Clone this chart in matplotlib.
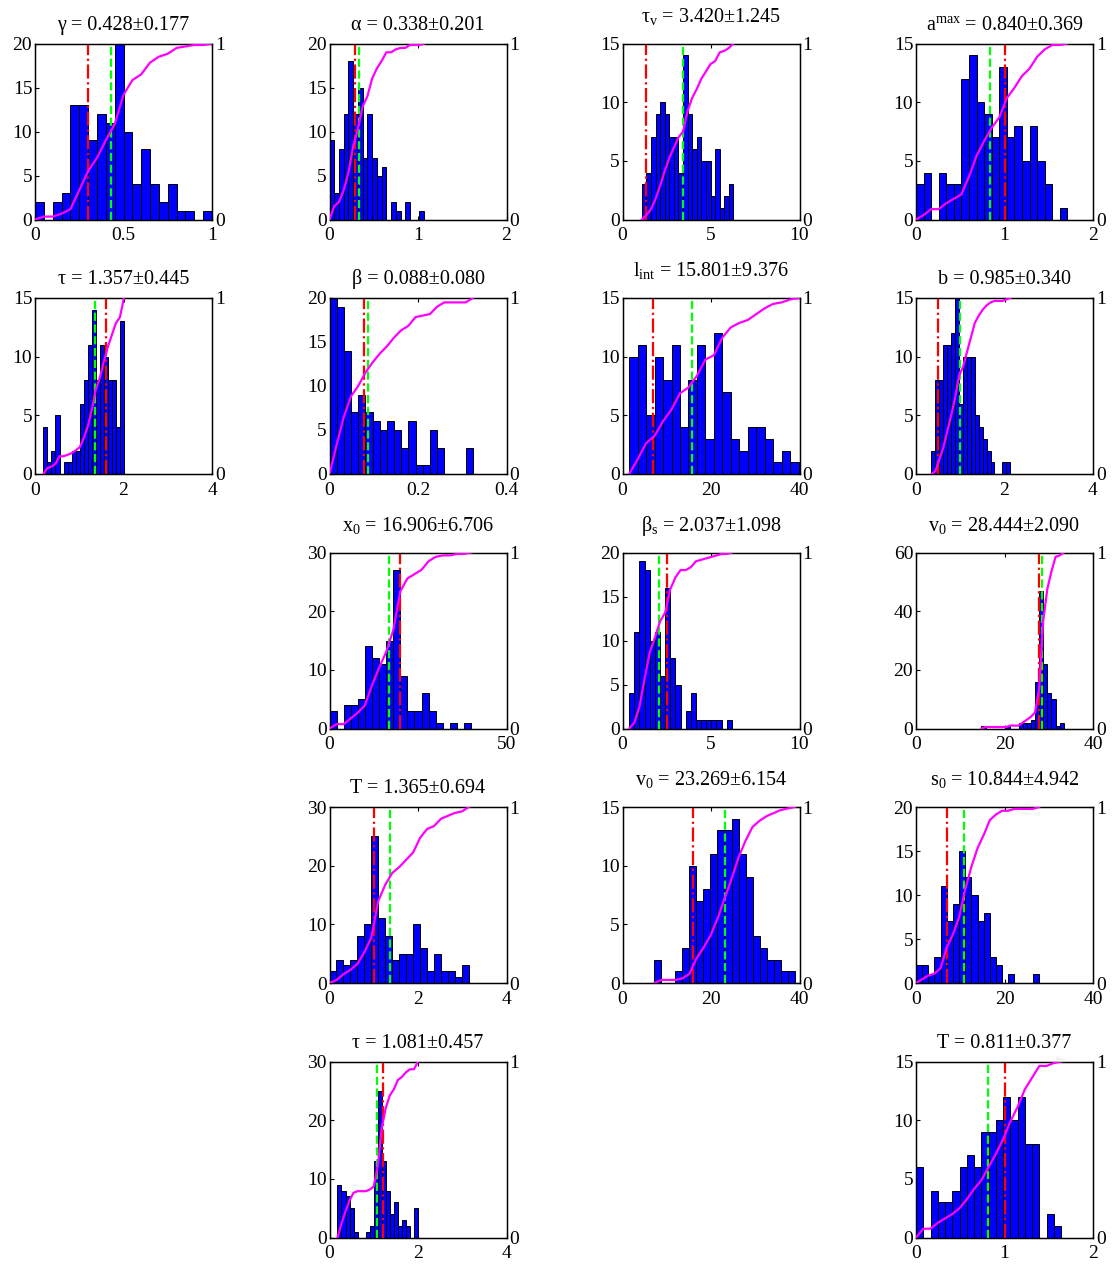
import numpy as np
import matplotlib
matplotlib.use("Agg")
import matplotlib.pyplot as plt
from matplotlib.ticker import FuncFormatter

plt.rcParams['font.family'] = ['Liberation Serif', 'DejaVu Serif']
plt.rcParams['mathtext.fontset'] = 'custom'
plt.rcParams['mathtext.rm'] = 'Liberation Serif'
plt.rcParams['mathtext.it'] = 'Liberation Serif'
plt.rcParams['mathtext.default'] = 'regular'

# ---------------- data (one panel per name) ----------------
titles = [
    "γ = 0.428±0.177", "α = 0.338±0.201", r"$\tau_{v}$ = 3.420±1.245", r"$a^{max}$ = 0.840±0.369",
    "τ = 1.357±0.445", "β = 0.088±0.080", r"$l_{int}$ = 15.801±9.376", "b = 0.985±0.340",
    r"$x_{0}$ = 16.906±6.706", r"$\beta_{s}$ = 2.037±1.098", r"$v_{0}$ = 28.444±2.090",
    "T = 1.365±0.694", r"$v_{0}$ = 23.269±6.154", r"$s_{0}$ = 10.844±4.942",
    "τ = 1.081±0.457", "T = 0.811±0.377",
]
has_subscript = [False, False, True, False, False, False, True, False,
                 True, True, True, False, True, True, False, False]
grid_cells = [(0, 0), (0, 1), (0, 2), (0, 3),
              (1, 0), (1, 1), (1, 2), (1, 3),
              (2, 1), (2, 2), (2, 3),
              (3, 1), (3, 2), (3, 3),
              (4, 1), (4, 3)]

counts_gamma = [2, 0, 2, 3, 13, 13, 9, 12, 11, 20, 10, 4, 8, 4, 2, 4, 1, 1, 0, 1]
counts_alpha = [9, 3, 8, 12, 18, 12, 15, 7, 12, 7, 5, 6, 0, 2, 1, 0, 2, 0, 0, 1]
counts_tauv = [3, 4, 7, 9, 10, 9, 7, 7, 4, 14, 9, 6, 7, 5, 5, 2, 6, 1, 2, 3]
counts_amax = [3, 4, 0, 4, 3, 3, 12, 14, 10, 9, 7, 13, 7, 8, 5, 8, 5, 3, 0, 1]
counts_tau1 = [4, 1, 2, 5, 0, 1, 1, 2, 2, 6, 8, 11, 14, 8, 11, 10, 8, 8, 4, 13]
counts_beta = [20, 19, 14, 7, 9, 7, 6, 5, 6, 5, 3, 6, 1, 1, 5, 3, 0, 0, 0, 3]
counts_lint = [10, 11, 5, 10, 8, 11, 4, 8, 11, 3, 12, 7, 3, 2, 4, 4, 3, 1, 2, 1]
counts_b = [2, 8, 8, 11, 11, 12, 15, 6, 10, 10, 10, 5, 4, 3, 2, 1, 0, 0, 1, 1]
counts_x0 = [3, 0, 4, 4, 5, 14, 12, 11, 15, 27, 9, 3, 3, 6, 3, 1, 0, 1, 0, 1]
counts_betas = [4, 11, 19, 18, 10, 11, 6, 16, 8, 5, 0, 2, 4, 1, 1, 1, 1, 1, 0, 1]
counts_v0a = [1, 0, 0, 0, 0, 0, 1, 0, 0, 2, 2, 2, 3, 16, 47, 22, 12, 10, 1, 2]
counts_T1 = [2, 4, 3, 4, 8, 10, 25, 11, 8, 4, 5, 5, 10, 6, 2, 5, 2, 2, 1, 3]
counts_v0b = [2, 0, 0, 1, 3, 10, 7, 8, 11, 13, 13, 14, 11, 9, 4, 3, 2, 2, 1, 1]
counts_s0 = [2, 2, 1, 3, 11, 7, 9, 15, 12, 10, 7, 8, 3, 2, 0, 1, 0, 0, 0, 1]
counts_tau2 = [9, 8, 7, 5, 1, 0, 0, 1, 2, 13, 25, 13, 8, 4, 6, 2, 3, 2, 0, 5]
counts_T2 = [6, 0, 4, 3, 3, 4, 6, 7, 6, 9, 9, 10, 12, 10, 12, 8, 8, 0, 2, 1]

all_counts = [counts_gamma, counts_alpha, counts_tauv, counts_amax,
              counts_tau1, counts_beta, counts_lint, counts_b,
              counts_x0, counts_betas, counts_v0a,
              counts_T1, counts_v0b, counts_s0,
              counts_tau2, counts_T2]

# data range (min, max) of each histogram
hist_lo = [0.0, 0.0, 1.09, 0.0, 0.19, 0.0, 1.5, 0.35, 0.0, 0.38, 14.8, 0.0, 7.2, 0.0, 0.18, 0.0]
hist_hi = [1.0, 1.07, 6.27, 1.71, 2.01, 0.324, 39.8, 2.13, 40.0, 6.18, 33.4, 3.15, 38.9, 27.8, 2.0, 1.64]

means = [0.428, 0.338, 3.420, 0.840, 1.357, 0.088, 15.801, 0.985,
         16.906, 2.037, 28.444, 1.365, 23.269, 10.844, 1.081, 0.811]
ref_values = [0.3, 0.29, 1.32, 1.0, 1.6, 0.0785, 6.85, 0.5,
              20.0, 2.5, 27.9, 1.0, 16.0, 7.0, 1.2, 1.0]

xlims = [(0, 1), (0, 2), (0, 10), (0, 2), (0, 4), (0, 0.4), (0, 40), (0, 4),
         (0, 50), (0, 10), (0, 40), (0, 4), (0, 40), (0, 40), (0, 4), (0, 2)]
xticks = [[0, 0.5, 1], [0, 1, 2], [0, 5, 10], [0, 1, 2], [0, 2, 4], [0, 0.2, 0.4],
          [0, 20, 40], [0, 2, 4], [0, 50], [0, 5, 10], [0, 20, 40], [0, 2, 4],
          [0, 20, 40], [0, 20, 40], [0, 2, 4], [0, 1, 2]]
ylims = [20, 20, 15, 15, 15, 20, 15, 15, 30, 20, 60, 30, 15, 20, 30, 15]
ysteps = [5, 5, 5, 5, 5, 5, 5, 5, 10, 5, 20, 10, 5, 5, 10, 5]

# ---------------- layout ----------------
W, H = 1112, 1266
fig = plt.figure(figsize=(W / 100, H / 100), dpi=100)
col_left = [35, 329.5, 622.5, 916]
row_top = [43.5, 298, 552.5, 807, 1061.5]
aw, ah = 177, 176

fmt = FuncFormatter(lambda v, p: ('%g' % v))
TICK_FS = 14
TITLE_FS = 14.5

for i, (r, c) in enumerate(grid_cells):
    left = col_left[c] / W
    bottom = 1 - (row_top[r] + ah) / H
    ax = fig.add_axes([left, bottom, aw / W, ah / H])
    cnt = np.array(all_counts[i], dtype=float)
    edges = np.linspace(hist_lo[i], hist_hi[i], len(cnt) + 1)
    ax.bar(edges[:-1], cnt, width=np.diff(edges), align='edge',
           color='#0000ff', edgecolor='black', linewidth=0.7, zorder=2)
    ax.axvline(ref_values[i], color='#ff0000', linestyle='-.', linewidth=1.6, zorder=3)
    ax.axvline(means[i], color='#00ff00', linestyle='--', linewidth=1.6, zorder=3)
    ax.set_xlim(*xlims[i])
    ax.set_ylim(0, ylims[i])
    ax.set_xticks(xticks[i])
    ax.set_yticks(np.arange(0, ylims[i] + 0.1, ysteps[i]))
    ax.xaxis.set_major_formatter(fmt)
    ax.yaxis.set_major_formatter(fmt)
    ax.tick_params(direction='in', length=3, width=0.8, labelsize=TICK_FS, top=True,
                   pad=2)
    ax.tick_params(axis='x', pad=5.5)
    for s in ax.spines.values():
        s.set_linewidth(1.0)
    ax.set_title(titles[i], fontsize=TITLE_FS, pad=(15.5 if has_subscript[i] else 10))

    ax2 = ax.twinx()
    cdf = np.concatenate([[0], np.cumsum(cnt)]) / cnt.sum()
    ax2.plot(edges, cdf, color='#ff00ff', linewidth=1.6, zorder=4)
    ax2.set_ylim(0, 1)
    ax2.set_yticks([0, 1])
    ax2.yaxis.set_major_formatter(fmt)
    ax2.tick_params(direction='in', length=3, width=0.8, labelsize=TICK_FS, pad=2)

fig.savefig("out.png", dpi=100)
